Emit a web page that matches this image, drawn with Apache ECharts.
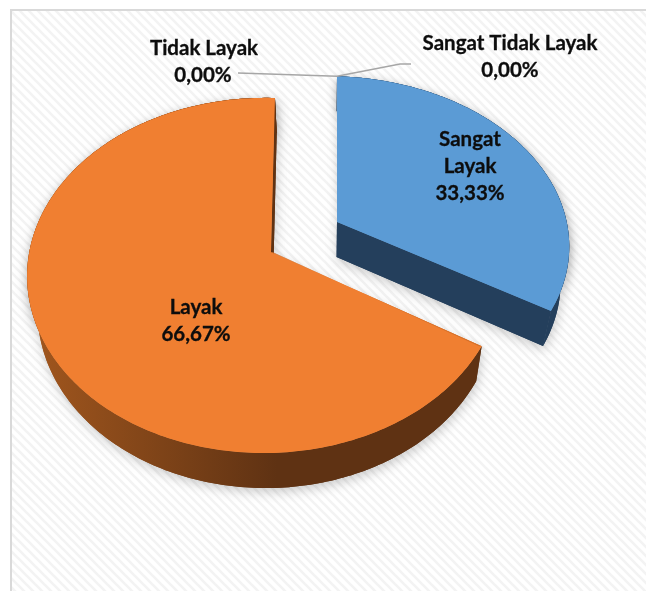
<!DOCTYPE html>
<html>
<head>
<meta charset="utf-8">
<style>html,body{margin:0;padding:0;background:#fff}#chart{width:646px;height:591px}</style>
<script src="https://cdn.jsdelivr.net/npm/echarts@6/dist/echarts.min.js"></script>
</head>
<body>
<div id="chart"></div>
<script>
// Kelayakan categories, in clockwise order from twelve o'clock
const categories = ['Sangat Layak', 'Layak', 'Tidak Layak', 'Sangat Tidak Layak'];
const percentages = [33.33, 66.67, 0, 0];
const valueLabels = ['33,33%', '66,67%', '0,00%', '0,00%'];
const topColors = ['#5B9BD5', '#F07F31', '#A5A5A5', '#FFC000'];
const wallColors = [
  ['#2A4B6C', '#243F5C'],
  ['#A2571E', '#5F3213'],
  ['#666666', '#666666'],
  ['#997300', '#997300']
];

// Tilted disc: projective map from the unit circle onto the page.
// The pulled-out slice sits further back, so it has its own projection.
const FRONT_DISC = { cx: 271, cy: 252, a: 235, b: 174.4, shearX: -4.5, shearY: 3.3, k: 0.1325, m: -0.025 };
const BACK_DISC = { cx: 337, cy: 222, a: 236, b: 165, shearX: 0, shearY: 2.9, k: 0.1325, m: -0.025 };
const DISCS = [BACK_DISC, FRONT_DISC, FRONT_DISC, FRONT_DISC];
const DEPTH = 35, VANISH_X = 325, CONVERGE = 0.035;

function project(disc, angle, radius) {
  const u = radius * Math.sin(angle), v = -radius * Math.cos(angle);
  const w = 1 - disc.k * v - disc.m * u;
  return [
    disc.cx + (disc.a * u + disc.shearX * v) / w,
    disc.cy + (disc.b * v + disc.shearY * u) / w
  ];
}
const lower = p => [p[0] - (p[0] - VANISH_X) * CONVERGE, p[1] + DEPTH];
const total = percentages.reduce((s, v) => s + v, 0);

function sliceAngles(index) {
  let start = 0;
  for (let i = 0; i < index; i++) start += percentages[i];
  return [start / total * 2 * Math.PI, (start + percentages[index]) / total * 2 * Math.PI];
}

function renderSlice(params, api) {
  const i = params.dataIndex;
  const value = api.value(0);
  if (!value) return { type: 'group', children: [] };
  const [a0, a1] = sliceAngles(i);
  const disc = DISCS[i];
  const apex = project(disc, 0, 0);
  const arc = [];
  const steps = Math.max(24, Math.round((a1 - a0) * 60));
  for (let s = 0; s <= steps; s++) arc.push(project(disc, a0 + (a1 - a0) * s / steps, 1));
  const face = [apex].concat(arc);
  // Wall along the rim, plus the radial cut that faces the viewer
  const walls = arc.concat(arc.map(lower).reverse());
  const cut = [apex, arc[arc.length - 1], lower(arc[arc.length - 1]), lower(apex)];
  const backCut = [apex, arc[0], [arc[0][0] - 2.5, arc[0][1]], [apex[0] + 1.5, apex[1]]];
  const shadow = { shadowBlur: 11, shadowColor: 'rgba(0,0,0,0.2)', shadowOffsetX: 1, shadowOffsetY: 4 };
  const gradient = new echarts.graphic.LinearGradient(0, 0, 1, 0, [
    { offset: 0, color: wallColors[i][0] },
    { offset: 0.55, color: wallColors[i][1] },
    { offset: 1, color: wallColors[i][1] }
  ]);
  const children = [
    { type: 'polygon', shape: { points: face }, style: Object.assign({ fill: topColors[i] }, shadow) },
    { type: 'polygon', shape: { points: walls }, style: Object.assign({ fill: gradient }, shadow) },
    { type: 'polygon', shape: { points: cut }, style: Object.assign({ fill: wallColors[i][1] }, shadow) }
  ];
  children.push({ type: 'polygon', shape: { points: walls }, style: { fill: gradient } });
  children.push({ type: 'polygon', shape: { points: cut }, style: { fill: wallColors[i][1] } });
  children.push({ type: 'polygon', shape: { points: face }, style: { fill: topColors[i] } });
  if (i === 1) children.push({ type: 'polygon', shape: { points: backCut }, style: { fill: '#D06F2B' } });
  return { type: 'group', children };
}

// Hatched chart-area fill
const tile = document.createElement('canvas');
tile.width = tile.height = 9;
const g = tile.getContext('2d');
g.fillStyle = '#ffffff';
g.fillRect(0, 0, 9, 9);
g.strokeStyle = '#f3f3f3';
g.lineWidth = 2.6;
[[-9, -9, 18, 18], [0, -9, 18, 9], [-9, 0, 9, 18]].forEach(l => {
  g.beginPath(); g.moveTo(l[0], l[1]); g.lineTo(l[2], l[3]); g.stroke();
});

const labelFont = { fontFamily: 'Lato', fontWeight: 'bold', fontSize: 20.5, fill: '#0d0d0d', stroke: '#0d0d0d', lineWidth: 0.3, align: 'center', verticalAlign: 'middle' };
const textEl = (text, x, y) => ({ type: 'text', x, y, z: 5, style: Object.assign({ text }, labelFont) });

const anchor = project(BACK_DISC, 0, 1);

echarts.init(document.getElementById('chart'), null, { renderer: 'canvas' }).setOption({
  animation: false,
  backgroundColor: '#ffffff',
  graphic: [
    { type: 'rect', z: -2, shape: { x: 12, y: 10, width: 634, height: 581 }, style: { fill: { image: tile, repeat: 'repeat' } } },
    { type: 'rect', z: -1, shape: { x: 10, y: 9, width: 2, height: 582 }, style: { fill: '#d9d9d9' } },
    { type: 'rect', z: -1, shape: { x: 10, y: 9, width: 636, height: 2 }, style: { fill: '#d9d9d9' } },
    { type: 'polyline', z: 4, shape: { points: [[238, 73], anchor, [400, 64], [411, 64]] }, style: { stroke: '#a6a6a6', lineWidth: 1.5, fill: 'none' } },
    textEl('Tidak Layak', 204, 48),
    textEl(valueLabels[2], 203, 75),
    textEl('Sangat Tidak Layak', 510, 43),
    textEl(valueLabels[3], 510, 70),
    textEl('Sangat', 470, 139),
    textEl('Layak', 470, 166),
    textEl(valueLabels[0], 470, 193),
    textEl('Layak', 196, 307),
    textEl(valueLabels[1], 196, 334)
  ],
  series: [{
    type: 'custom',
    coordinateSystem: 'none',
    renderItem: renderSlice,
    data: percentages.map((v, i) => ({ name: categories[i], value: [v] }))
  }]
});
</script>
</body>
</html>
